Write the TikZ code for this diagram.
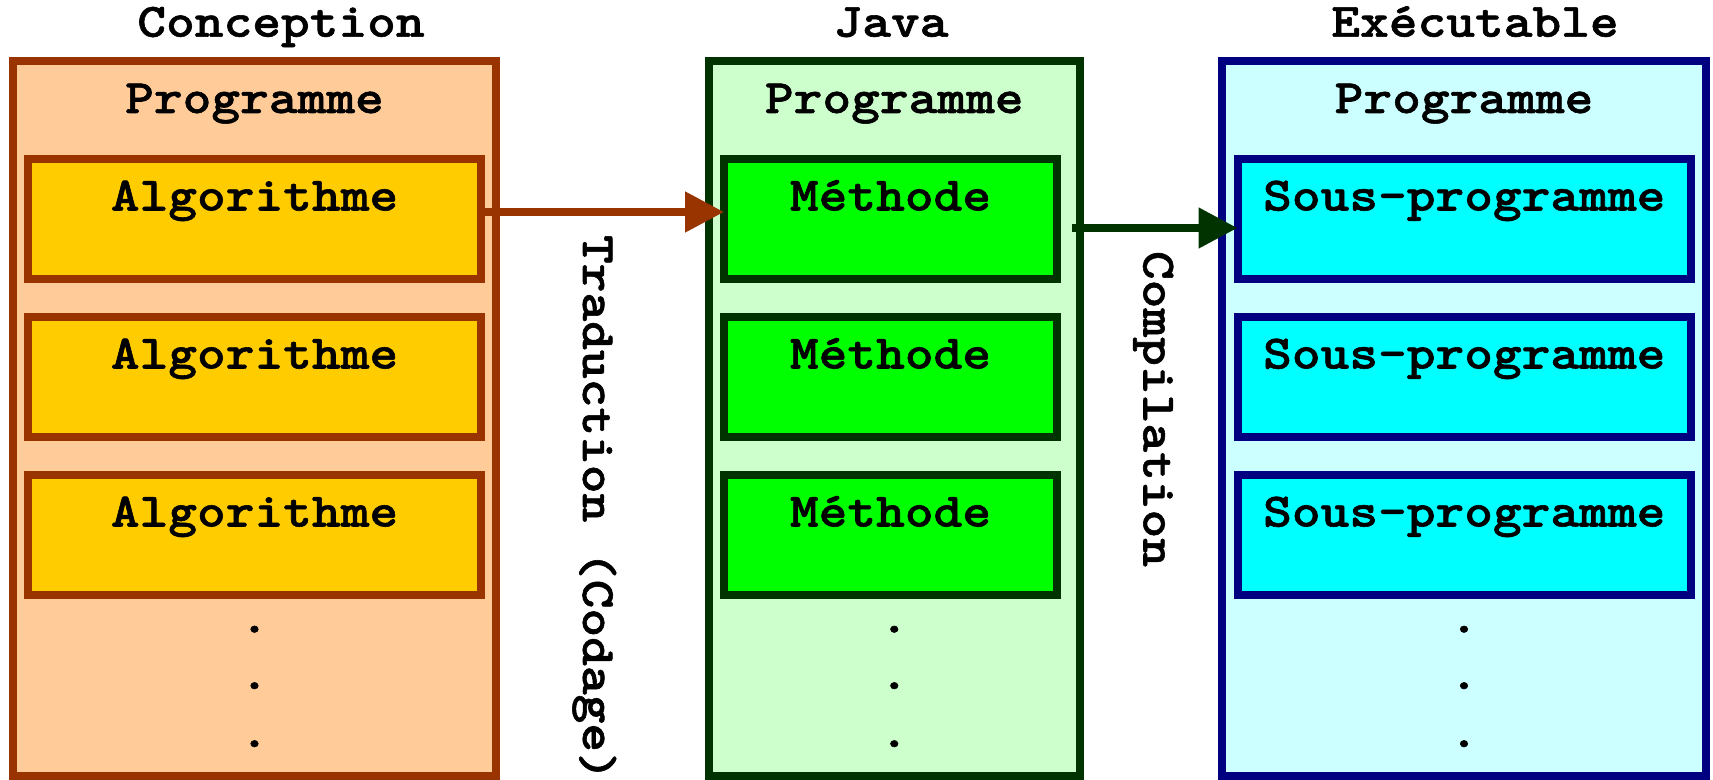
\documentclass[tikz,border=0pt]{standalone}
\usepackage{fontspec}
\newfontfamily\machine{lmmonolt10-bold.otf}[FakeStretch=1.14, FakeBold=1.2]
\usepackage{tikz}
\usetikzlibrary{positioning, arrows.meta}

\definecolor{brun}{HTML}{993300}
\definecolor{peche}{HTML}{FFCC99}
\definecolor{jaune}{HTML}{FFCC00}
\definecolor{vertfonce}{HTML}{003300}
\definecolor{vertpale}{HTML}{CCFFCC}
\definecolor{vertvif}{HTML}{00FF00}
\definecolor{marine}{HTML}{000080}
\definecolor{cyanpale}{HTML}{CCFFFF}
\definecolor{cyanvif}{HTML}{00FFFF}

\begin{document}
\begin{tikzpicture}[x=0.5pt, y=-0.5pt, node distance=19pt, line width=4pt,
    texte/.style={font=\fontsize{24pt}{28pt}\machine, inner sep=0pt},
    cadre/.style={texte, draw, rectangle, outer sep=0pt, anchor=north, text height=25.75pt},
    bloc/.style={cadre, minimum height=357.25pt, text depth=331.5pt},
    algo/.style={cadre, fill=jaune, draw=brun, minimum width=226.5pt, minimum height=60pt, text depth=34.25pt},
    meth/.style={algo, fill=vertvif, draw=vertfonce, minimum width=166.5pt},
    sous/.style={algo, fill=cyanvif, draw=marine, minimum width=226.75pt},
    titre/.style={texte, anchor=base},
    vertical/.style={texte, rotate=-90, anchor=base west},
    fleche/.style={-{Triangle[length=19.5pt, width=19.5pt]}, line width=4pt}]
    \useasboundingbox (0,0) rectangle (1713,780);

    % Cadres
    \node[bloc, fill=peche, draw=brun, minimum width=241.5pt] (conception) at (254.5,61.5) {Programme};
    \node[bloc, fill=vertpale, draw=vertfonce, minimum width=185.75pt] (java) at (894.25,61.5) {Programme};
    \node[bloc, fill=cyanpale, draw=marine, minimum width=242pt] (executable) at (1464,61.5) {Programme};

    % Titres
    \node[titre] (tconception) at (281,36.7) {Conception};
    \node[titre] (tjava) at (891,36.7) {Java};
    \node[titre] (texecutable) at (1475,36.7) {Exécutable};

    % Blocs
    \node[algo] (alg1) at (254.5,159) {Algorithme};
    \node[algo, below=of alg1] (alg2) {Algorithme};
    \node[algo, below=of alg2] (alg3) {Algorithme};
    \node[meth, right=121.5pt of alg1] (meth1) {Méthode};
    \node[meth, below=of meth1] (meth2) {Méthode};
    \node[meth, below=of meth2] (meth3) {Méthode};
    \node[sous, right=90.25pt of meth1] (sous1) {Sous-programme};
    \node[sous, below=of sous1] (sous2) {Sous-programme};
    \node[sous, below=of sous2] (sous3) {Sous-programme};

    % Points de suite
    \foreach \col/\x in {c/254.5, j/894.25, e/1464}
        \foreach \y [count=\i] in {632.5, 689, 747}
            \node[titre] (p\col\i) at (\x,\y) {.};

    % Fleches
    \draw[fleche, brun] ([yshift=3.5pt]alg1.east) -- ([yshift=3.5pt]meth1.west);
    \draw[fleche, vertfonce] ([xshift=7.5pt, yshift=-4.5pt]meth1.east) -- ([yshift=-4.5pt]sous1.west);
    \node[vertical] (traduction) at (583,231) {Traduction (Codage)};
    \node[vertical] (compilation) at (1143.5,247) {Compilation};
\end{tikzpicture}
\end{document}
